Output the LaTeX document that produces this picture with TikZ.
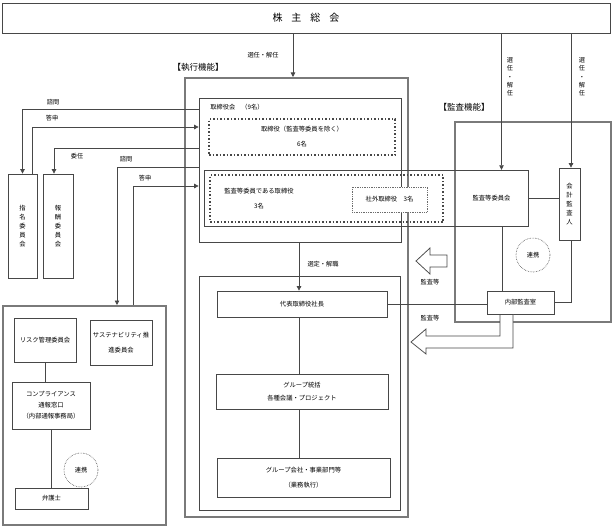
\documentclass[tikz,border=0pt]{standalone}
\usepackage{fontspec}
\setmainfont{Noto Sans CJK JP}
\usetikzlibrary{arrows.meta}

\definecolor{linegray}{HTML}{474747}
\definecolor{framegray}{HTML}{7a7a7a}
\newcommand{\fsz}[2]{\fontsize{#1}{#2}\selectfont}

\begin{document}
\begin{tikzpicture}[x=1pt,y=-1pt,
  box/.style={draw=linegray,line width=0.75pt,inner sep=0pt,align=center,font=\fsz{6.3}{15}},
  frame/.style={draw=framegray,line width=2pt,inner sep=0pt},
  dotbox/.style={draw=linegray,line width=1.5pt,dotted,inner sep=0pt},
  conn/.style={draw=linegray,line width=0.75pt},
  arr/.style={conn,-{Triangle[length=4.5pt,width=4.5pt]}},
  lbl/.style={font=\fsz{6.2}{8},inner sep=0pt,align=center},
  vlbl/.style={font=\fsz{6.2}{8.3},inner sep=0pt,align=center},
  title/.style={font=\fsz{8.5}{10},inner sep=0pt},
  link/.style={draw=linegray,line width=0.6pt,densely dotted,circle,minimum size=34pt,inner sep=0pt,font=\fsz{6.2}{8}},
  hollow/.style={draw=linegray,line width=0.75pt,fill=white}]
\useasboundingbox (0,0) rectangle (613,527);

% shareholders
\node[box,font=\fsz{10}{12},minimum width=608pt,minimum height=30pt] (gm) at (306,18)
  {株\hspace{0.9em}主\hspace{0.9em}総\hspace{0.9em}会};

% frames
\node[frame,minimum width=223pt,minimum height=439pt] (execf) at (296.5,297.5) {};
\node[frame,minimum width=156pt,minimum height=200pt] (auditf) at (533,222) {};
\node[frame,minimum width=163pt,minimum height=219pt] (ctrlf) at (84.5,415.5) {};
\node[title] (exectitle) at (198,67) {【執行機能】};
\node[title] (audittitle) at (464,107) {【監査機能】};

% board
\node[box,minimum width=202pt,minimum height=144pt] (board) at (300,170) {};
\node[lbl] (boardlbl) at (237,107) {取締役会　（9名）};
\node[dotbox,align=center,font=\fsz{6.3}{15},minimum width=186pt,minimum height=36pt] (dir6) at (302,137)
  {取締役（監査等委員を除く）\\6名};
\node[box,minimum width=324pt,minimum height=56pt] (acmwide) at (366,198) {};
\node[inner sep=0pt,font=\fsz{6.3}{8},minimum width=73pt,minimum height=56pt] (acm) at (491.5,198) {監査等委員会};
\node[dotbox,minimum width=233pt,minimum height=47pt] (dir3) at (326.5,198.5) {};
\node[inner sep=0pt,align=center,font=\fsz{6.3}{15}] (dir3lbl) at (259,198.5) {監査等委員である取締役\\3名};
\node[box,draw=linegray!80,densely dotted,fill=white,minimum width=75pt,minimum height=25pt] (outdir) at (389.5,199.5)
  {社外取締役　3名};

% committees
\node[box,font=\fsz{6.3}{9},minimum width=29pt,minimum height=104pt] (nom) at (22.5,226) {指\\名\\委\\員\\会};
\node[box,font=\fsz{6.3}{9},minimum width=30pt,minimum height=104pt] (rem) at (58,226) {報\\酬\\委\\員\\会};

\coordinate (q1) at (0,109);
\coordinate (a1) at (0,127);
\coordinate (d1) at (0,148);
\coordinate (q2) at (0,167);
\coordinate (a2) at (0,186);
\draw[arr] (board.west |- q1) -| (nom.north);
\draw[arr] ([xshift=9.5pt]nom.north) |- (board.west |- a1);
\draw[arr] (board.west |- d1) -| ([xshift=-4pt]rem.north);
\draw[arr] (board.west |- q2) -| ([xshift=32.5pt]ctrlf.north);
\draw[arr] ([xshift=48.5pt]ctrlf.north) |- (board.west |- a2);
\node[lbl] at (53,102) {諮問};
\node[lbl] at (52,118) {答申};
\node[lbl] at (77,156) {委任};
\node[lbl] at (126,159) {諮問};
\node[lbl] at (145,178) {答申};

% risk / compliance
\node[box,minimum width=62pt,minimum height=44pt] (risk) at (45,340) {リスク管理委員会};
\node[box,minimum width=62pt,minimum height=45pt] (sust) at (121,342.5) {サステナビリティ推\\進委員会};
\node[box,font=\fsz{6.3}{11},minimum width=78pt,minimum height=47pt] (comp) at (51,405.5)
  {コンプライアンス\\通報窓口\\（内部通報事務局）};
\node[box,minimum width=73pt,minimum height=21pt] (lawyer) at (51.5,498.5) {弁護士};
\node[link] (link1) at (81,470) {連携};
\draw[conn] (risk.south) -- (risk.south |- comp.north);
\draw[conn] (comp.south) -- (comp.south |- lawyer.north);

% execution
\node[box,minimum width=201pt,minimum height=234pt] (opbox) at (299.5,393) {};
\node[box,minimum width=170pt,minimum height=26pt] (pres) at (302,304) {代表取締役社長};
\node[box,font=\fsz{6.3}{13},minimum width=172pt,minimum height=35pt] (grp) at (302,391.5)
  {グループ統括\\各種会議・プロジェクト};
\node[box,minimum width=173pt,minimum height=39pt] (sub) at (303.5,477.5)
  {グループ会社・事業部門等\\（業務執行）};
\draw[arr] ([xshift=-1pt]board.south) -- ([xshift=-1pt]board.south |- pres.north);
\node[lbl] at (323,264) {選定・解職};
\draw[conn] ([xshift=-3pt]pres.south) -- ([xshift=-3pt]pres.south |- grp.north);
\draw[conn] ([xshift=-3pt]grp.south) -- ([xshift=-3pt]grp.south |- sub.north);

% audit
\node[box,minimum width=21pt,minimum height=72pt,font=\fsz{6.3}{9}] (ext) at (569.5,204) {会\\計\\監\\査\\人};
\node[box,minimum width=67pt,minimum height=23pt] (ia) at (520.5,302.5) {内部監査室};
\node[link] (link2) at (533,255) {連携};
\draw[conn] (acm.east) -- (acm.east -| ext.west);
\draw[conn] ([xshift=10.5pt]acm.south) -- ([xshift=10.5pt]acm.south |- ia.north);
\draw[conn] ([xshift=1.5pt]ext.south) |- (ia.east);
\draw[conn] (pres.east) -- (pres.east -| ia.west);

% appointment
\draw[arr] ([xshift=-3.5pt]execf.north |- gm.south) -- ([xshift=-3.5pt]execf.north);
\draw[arr] ([xshift=10pt]acm.north |- gm.south) -- ([xshift=10pt]acm.north);
\draw[arr] ([xshift=1.5pt]ext.north |- gm.south) -- ([xshift=1.5pt]ext.north);
\node[lbl] at (263,55) {選任・解任};
\node[vlbl] at (510,77) {選\\任\\・\\解\\任};
\node[vlbl] at (582,77) {選\\任\\・\\解\\任};

% audit arrows
\draw[hollow] (447,255) -- (430,255) -- (430,248) -- (416,261) -- (430,274) -- (430,267) -- (447,267) -- cycle;
\draw[hollow] (ia.south -| 513,0) -- (513,348) -- (426,348) -- (426,354) -- (411,342) -- (426,329)
  -- (426,336) -- (500,336) -- (ia.south -| 500,0) -- cycle;
\node[lbl] at (430,282) {監査等};
\node[lbl] at (430,318) {監査等};
\end{tikzpicture}
\end{document}
